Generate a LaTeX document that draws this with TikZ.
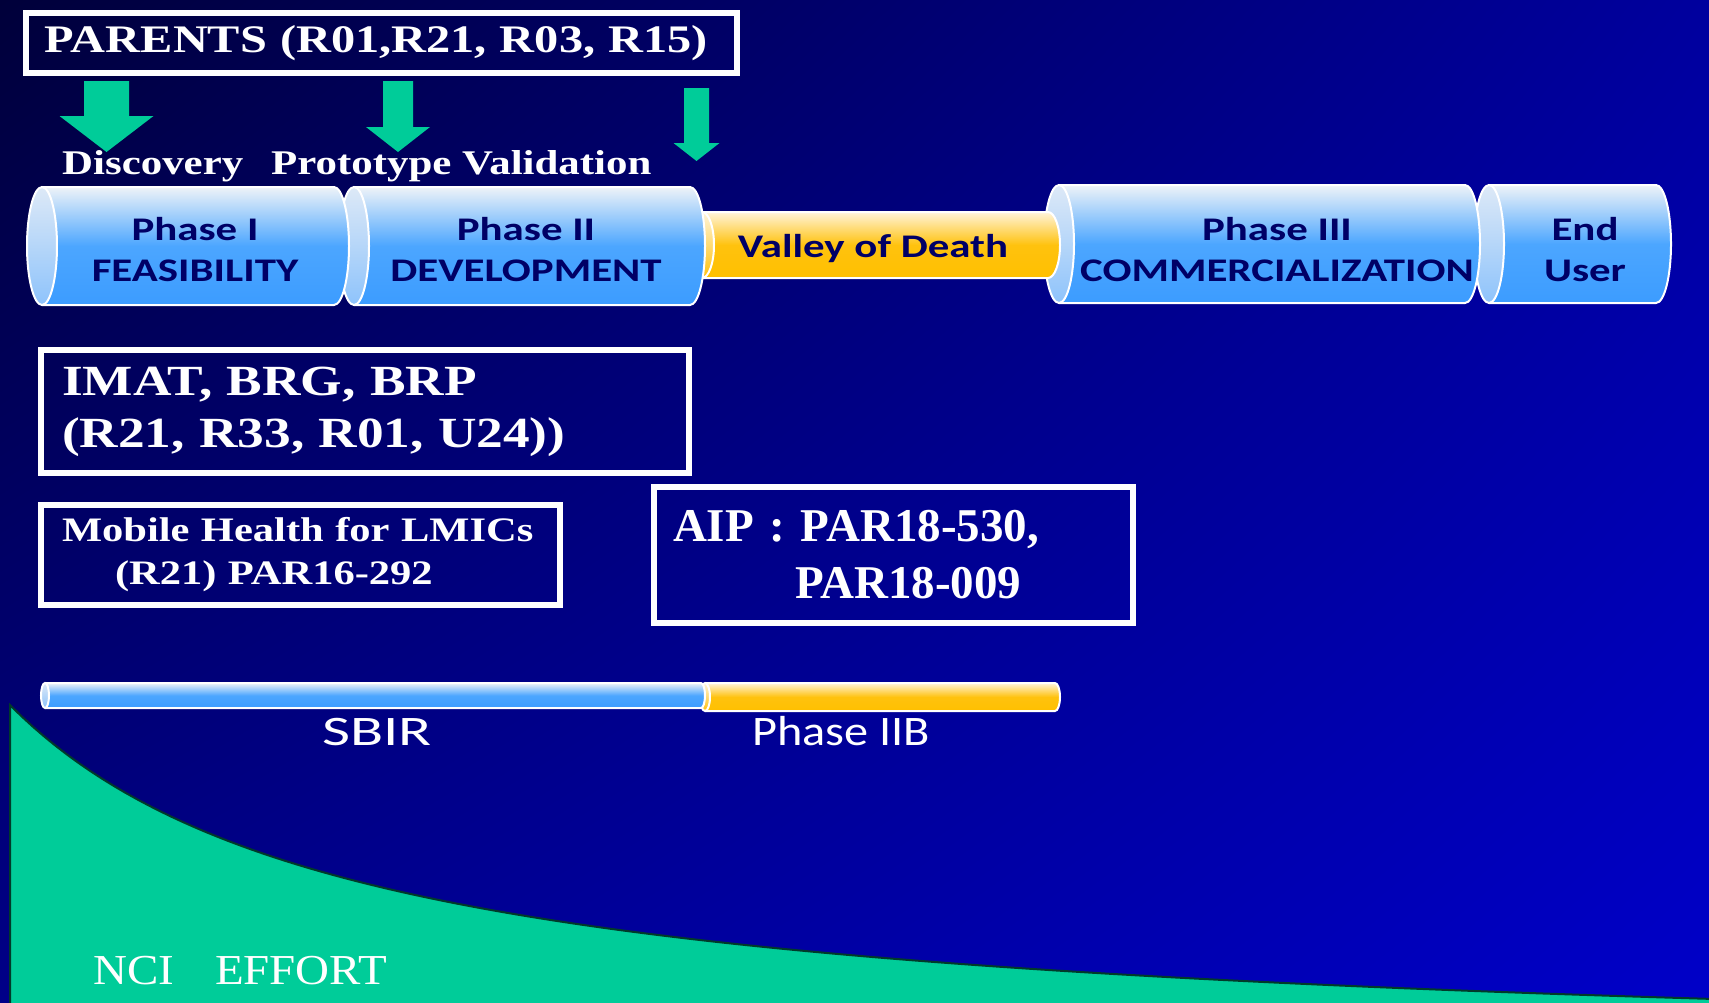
\documentclass[tikz,border=0pt]{standalone}
\usepackage{fontspec}
\setmainfont{Liberation Serif}
\newfontfamily\slideserif[FakeStretch=1.24]{Liberation Serif}
\newfontfamily\slidesans[FakeStretch=1.3]{Carlito}
\newfontfamily\sbirfont[FakeStretch=1.45]{Carlito}
\newfontfamily\iibfont[FakeStretch=1.15]{Carlito}
\newfontfamily\ncifont[FakeStretch=1.1]{Liberation Serif}
\usetikzlibrary{shadings}

\definecolor{bgul}{HTML}{00003A}
\definecolor{bgur}{HTML}{00009E}
\definecolor{bgll}{HTML}{000088}
\definecolor{bglr}{HTML}{0000C8}
\definecolor{ncigreen}{HTML}{00CC99}
\definecolor{curvedark}{HTML}{003A2A}
\definecolor{tubetop}{HTML}{EEF3F8}
\definecolor{tubemid}{HTML}{4CA6FF}
\definecolor{tubebot}{HTML}{3C9CFF}
\definecolor{facetop}{HTML}{DDE9F7}
\definecolor{facebot}{HTML}{8EC3FB}
\definecolor{goldtop}{HTML}{FFF4DA}
\definecolor{goldmid}{HTML}{FFC20E}
\definecolor{goldbot}{HTML}{FFC000}
\definecolor{tubeink}{HTML}{000066}

\tikzset{
  whitebox/.style={draw=white, line width=6.5pt, rectangle, outer sep=0pt, inner ysep=0pt, align=left, text=white},
  lbl/.style={text=white, inner sep=0pt},
  tubeline/.style={draw=white, line width=2pt},
  bluebody/.style={top color=tubetop, bottom color=tubebot, middle color=tubemid},
  blueface/.style={top color=facetop, bottom color=facebot},
  goldbody/.style={top color=goldtop, bottom color=goldbot, middle color=goldmid},
  goldface/.style={top color=goldtop, bottom color=goldmid},
  tubetext/.style={text=tubeink, align=center, inner sep=0pt, font=\slidesans\bfseries\fontsize{33}{41}\selectfont}
}

% #1 left, #2 right, #3 top, #4 bottom, #5 end radius, #6 colour set
\newcommand{\tube}[6]{%
  \shade[#6body] ({#1+#5},#3) -- ({#2-#5},#3)
    arc[start angle=-90,end angle=90,x radius=#5,y radius={(#4-#3)/2}]
    -- ({#1+#5},#4)
    arc[start angle=90,end angle=270,x radius=#5,y radius={(#4-#3)/2}] -- cycle;
  \draw[tubeline] ({#1+#5},#3) -- ({#2-#5},#3)
    arc[start angle=-90,end angle=90,x radius=#5,y radius={(#4-#3)/2}]
    -- ({#1+#5},#4);
  \shade[#6face, tubeline] ({#1+#5},{(#3+#4)/2}) ellipse[x radius=#5,y radius={(#4-#3)/2}];
}

\begin{document}
\begin{tikzpicture}[x=1pt,y=-1pt]
    \useasboundingbox (0,0) rectangle (1709,1002);
    \shade[upper left=bgul, upper right=bgur, lower left=bgll, lower right=bglr] (0,0) rectangle (1709,1002);

    % NCI effort
    \filldraw[fill=ncigreen, draw=curvedark, line width=2pt] (10,1012) -- plot[domain=10:1725, samples=150] (\x,{1059.5-1242.85/(0.01*\x+3.406)}) -- (1725,1012) -- cycle;
    \node[lbl, anchor=base west, font=\ncifont\fontsize{42.7}{48}\selectfont] (nci) at (93,984) {NCI\hspace*{41pt}EFFORT};

    \node[whitebox, anchor=north west, minimum width=711pt, minimum height=60pt, inner xsep=19pt, text width=673pt, font=\slideserif\bfseries\fontsize{39}{48}\selectfont] (parents) at (26,13) {\mbox{PARENTS (R01,R21, R03, R15)}};

    \foreach \cx/\top/\tip/\sw/\hw/\hl in {106.5/81/152/22.5/47/36, 398/81/152/15/32/25, 696.5/88/161/12.5/23/18}
    \fill[ncigreen] (\cx-\sw,\top) -- (\cx+\sw,\top) -- (\cx+\sw,\tip-\hl) -- (\cx+\hw,\tip-\hl) -- (\cx,\tip) -- (\cx-\hw,\tip-\hl) -- (\cx-\sw,\tip-\hl) -- cycle;

    % label
    \node[lbl, anchor=base west, font=\slideserif\bfseries\fontsize{34.6}{40}\selectfont] (discovery) at (62,174) {Discovery};
    \node[lbl, anchor=base west, font=\slideserif\bfseries\fontsize{34.6}{40}\selectfont] (prototype) at (271,174) {Prototype Validation};

    % phases, right to left
    \tube{1474}{1671}{185}{303}{15}{blue}
    \tube{1044}{1480}{185}{303}{15}{blue}
    \tube{690}{1060}{212}{278}{12}{gold}
    \tube{339}{705}{187}{305}{15}{blue}
    \tube{27}{349}{187}{305}{15}{blue}

    \node[tubetext] (ph1txt) at (195,250) {Phase I\\FEASIBILITY};
    \node[tubetext] (ph2txt) at (526,250) {Phase II\\DEVELOPMENT};
    \node[tubetext, anchor=base] (valleytxt) at (873,257) {Valley of Death};
    \node[tubetext] (ph3txt) at (1277,250) {Phase III\\COMMERCIALIZATION};
    \node[tubetext] (endtxt) at (1585,250) {End\\User};

    % programs
    \node[whitebox, anchor=north west, minimum width=648pt, minimum height=123pt, inner xsep=21pt, text width=606pt, font=\slideserif\bfseries\fontsize{43}{52}\selectfont] (imat) at (41,350) {\mbox{IMAT, BRG, BRP}\\\mbox{(R21, R33, R01, U24))}};
    \node[whitebox, anchor=north west, minimum width=519pt, minimum height=100pt, inner xsep=21pt, text width=477pt, font=\slideserif\bfseries\fontsize{34.3}{43}\selectfont] (mobile) at (41,505) {\mbox{Mobile Health for LMICs}\\\hspace*{53pt}\mbox{(R21) PAR16-292}};
    \node[whitebox, anchor=north west, minimum width=479pt, minimum height=136pt, inner xsep=19pt, text width=441pt, font=\bfseries\fontsize{47}{57}\selectfont] (aip) at (654,487) {\mbox{AIP : PAR18-530,}\\\hspace*{122pt}\mbox{PAR18-009}};

    % funding bars
    \tube{700}{1060}{683}{711}{5}{gold}
    \tube{41}{705}{683}{708}{4}{blue}
    \node[lbl, anchor=base, font=\sbirfont\fontsize{42}{48}\selectfont] (sbir) at (377,745) {SBIR};
    \node[lbl, anchor=base, font=\iibfont\fontsize{42}{48}\selectfont] (phaseiib) at (841,745) {Phase IIB};

  \end{tikzpicture}
\end{document}
